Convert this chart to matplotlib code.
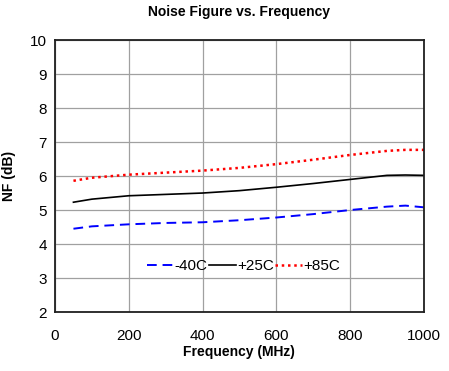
import matplotlib.pyplot as plt
from matplotlib.patches import Rectangle

plt.rcParams['font.family'] = ['Liberation Sans', 'DejaVu Sans']

# Frequency points (MHz) and noise figure (dB) for each temperature
freq = [50, 100, 200, 300, 400, 500, 600, 700, 800, 900, 950, 1000]
nf_m40 = [4.45, 4.52, 4.58, 4.62, 4.64, 4.70, 4.78, 4.88, 5.00, 5.10, 5.13, 5.08]
nf_p25 = [5.23, 5.32, 5.42, 5.46, 5.50, 5.57, 5.67, 5.78, 5.90, 6.02, 6.03, 6.02]
nf_p85 = [5.86, 5.95, 6.04, 6.10, 6.16, 6.24, 6.35, 6.48, 6.62, 6.74, 6.77, 6.77]
labels = ['-40C', '+25C', '+85C']

fig = plt.figure(figsize=(4.49, 3.71), dpi=100)
ax = fig.add_axes([0.1225, 0.159, 0.8215, 0.733])

ax.plot(freq, nf_m40, color='blue', linestyle=(0, (5, 3)), linewidth=1.4, label=labels[0])
ax.plot(freq, nf_p25, color='black', linestyle='-', linewidth=1.2, label=labels[1])
ax.plot(freq, nf_p85, color='red', linestyle=(0, (1, 1.5)), linewidth=1.8, label=labels[2])

ax.set_xlim(0, 1000)
ax.set_ylim(2, 10)
ax.set_xticks(range(0, 1001, 200))
ax.set_yticks(range(2, 11))
ax.grid(True, color='#a0a0a0', linewidth=0.9)
ax.tick_params(axis='x', length=0, labelsize=11, pad=12)
ax.tick_params(axis='y', length=0, labelsize=11, pad=6)
for s in ax.spines.values():
    s.set_linewidth(1.3)
    s.set_color('#202020')

ax.set_title('Noise Figure vs. Frequency', fontsize=10, fontweight='bold', pad=17)
ax.set_xlabel('Frequency (MHz)', fontsize=10, fontweight='bold', labelpad=2)
ax.set_ylabel('NF (dB)', fontsize=10, fontweight='bold', labelpad=10)

# white legend box hiding the grid behind it
ax.add_patch(Rectangle((0.247, 0.074), 0.525, 0.198, transform=ax.transAxes,
                       facecolor='white', edgecolor='none', zorder=1.5))
ax.legend(loc='center', bbox_to_anchor=(0.51, 0.168), ncol=3, frameon=False,
          fontsize=11, handlelength=1.8, handletextpad=0.05, columnspacing=0.05)

fig.savefig('out.png', dpi=100)
